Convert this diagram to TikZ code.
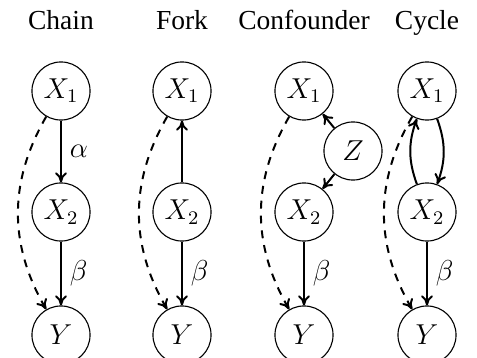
\documentclass[tikz,border=0pt]{standalone}
\usepackage{fontspec}
\setmainfont{Liberation Serif}
\usetikzlibrary{arrows.meta}
\tikzset{
  var/.style={circle, draw, line width=0.46pt, minimum size=24.2pt, inner sep=0pt,
    font=\fontsize{12}{14}\selectfont},
  title/.style={anchor=base, font=\fontsize{11.46}{13}\selectfont},
  edge/.style={line width=0.83pt, -{To[length=4.2pt,width=5pt]}},
  hidden/.style={edge, dash pattern=on 3.3pt off 2.9pt},
  lbl/.style={right, font=\fontsize{12}{14}\selectfont},
}
\begin{document}
\begin{tikzpicture}[x=0.41667pt, y=-0.41667pt]
\useasboundingbox (0,0) rectangle (477,358);

% titles
\node[title] (tchain) at (61,30) {Chain};
\node[title] (tfork) at (182,30) {Fork};
\node[title] (tconf) at (304,30) {Confounder};
\node[title] (tcyc) at (427,30) {Cycle};

% chain
\node[var] (a1) at (61,91) {$X_1$};
\node[var] (a2) at (61,212) {$X_2$};
\node[var] (ay) at (61,335) {$Y$};
\draw[edge] (a1) -- node[lbl] {$\alpha$} (a2);
\draw[edge] (a2) -- node[lbl] {$\beta$} (ay);
\draw[hidden] (a1) to[out=240, in=120] (ay);

% fork
\node[var] (b1) at (182,91) {$X_1$};
\node[var] (b2) at (182,212) {$X_2$};
\node[var] (by) at (182,335) {$Y$};
\draw[edge] (b2) -- (b1);
\draw[edge] (b2) -- node[lbl] {$\beta$} (by);
\draw[hidden] (b1) to[out=240, in=120] (by);

% confounder
\node[var] (c1) at (304,91) {$X_1$};
\node[var] (cz) at (353,151) {$Z$};
\node[var] (c2) at (304,212) {$X_2$};
\node[var] (cy) at (304,335) {$Y$};
\draw[edge] (cz) -- (c1);
\draw[edge] (cz) -- (c2);
\draw[edge] (c2) -- node[lbl] {$\beta$} (cy);
\draw[hidden] (c1) to[out=240, in=120] (cy);

% cycle
\node[var] (d1) at (427,91) {$X_1$};
\node[var] (d2) at (427,212) {$X_2$};
\node[var] (dy) at (427,335) {$Y$};
\draw[edge] (d1) to[bend left=20] (d2);
\draw[edge] (d2) to[bend left=20] (d1);
\draw[edge] (d2) -- node[lbl] {$\beta$} (dy);
\draw[hidden] (d1) to[out=240, in=120] (dy);
\end{tikzpicture}
\end{document}
